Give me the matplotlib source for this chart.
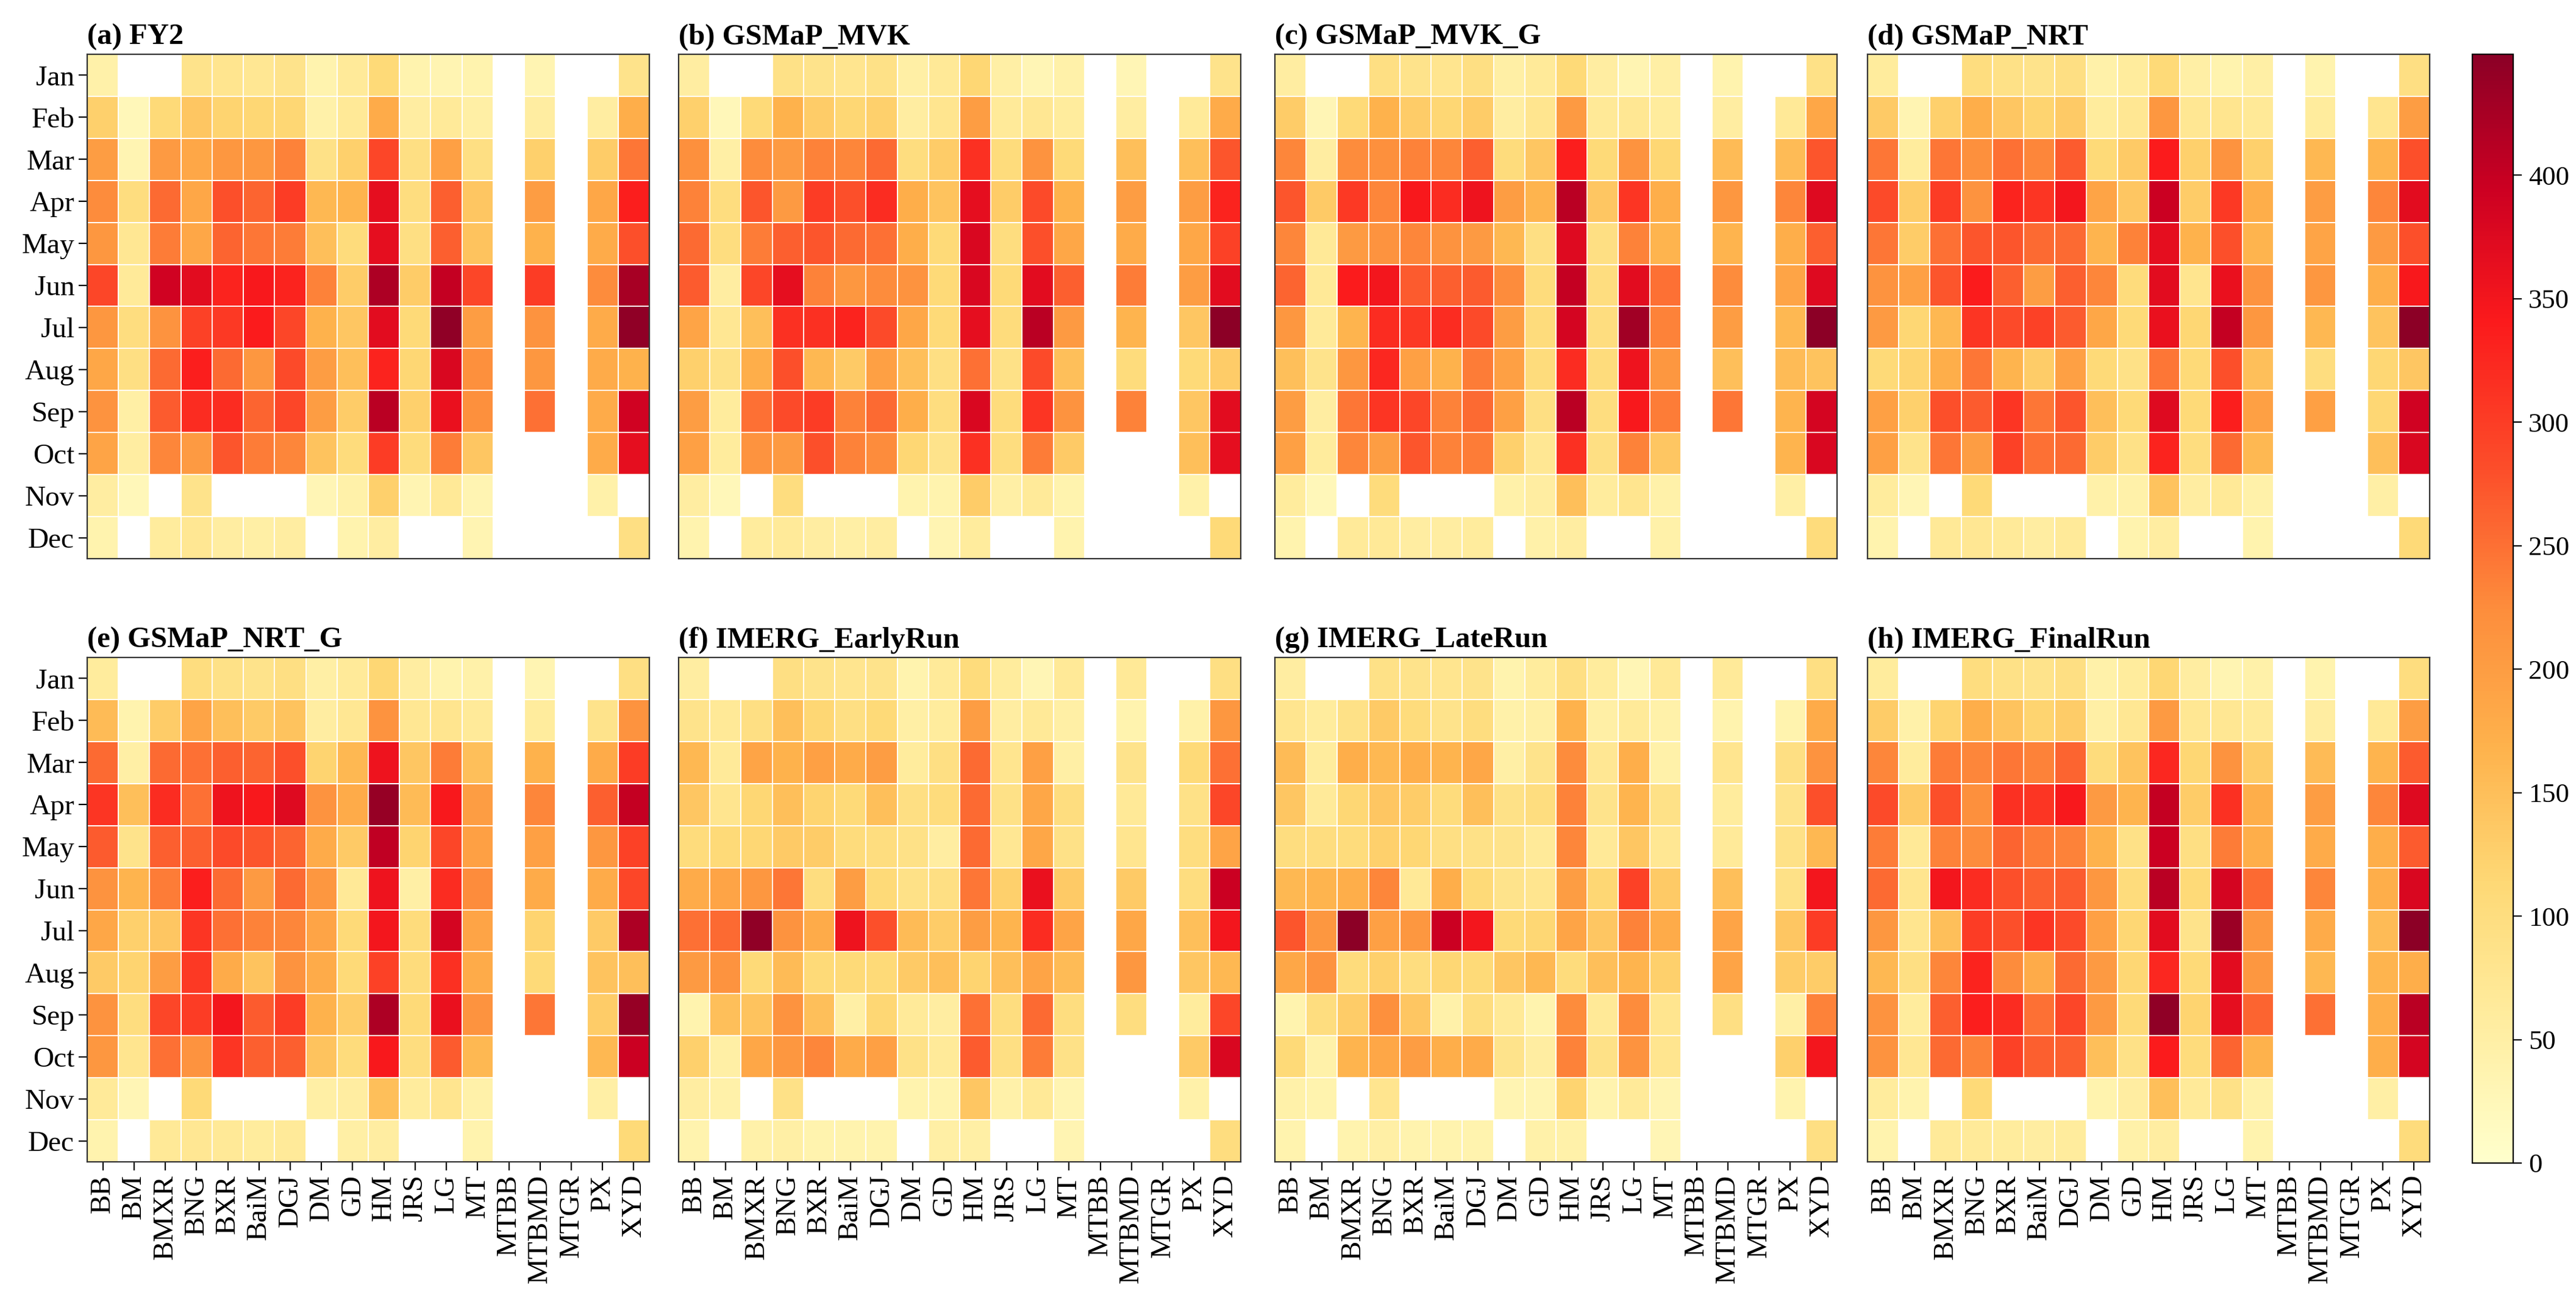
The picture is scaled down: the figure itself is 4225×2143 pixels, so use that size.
import numpy as np
import matplotlib
matplotlib.use("Agg")
import matplotlib.pyplot as plt
from matplotlib.colors import Normalize, LinearSegmentedColormap

N = np.nan
months = ['Jan', 'Feb', 'Mar', 'Apr', 'May', 'Jun', 'Jul', 'Aug', 'Sep', 'Oct', 'Nov', 'Dec']
stations = ['BB', 'BM', 'BMXR', 'BNG', 'BXR', 'BaiM', 'DGJ', 'DM', 'GD', 'HM', 'JRS', 'LG',
            'MT', 'MTBB', 'MTBMD', 'MTGR', 'PX', 'XYD']
titles = ['(a) FY2', '(b) GSMaP_MVK', '(c) GSMaP_MVK_G', '(d) GSMaP_NRT',
          '(e) GSMaP_NRT_G', '(f) IMERG_EarlyRun', '(g) IMERG_LateRun', '(h) IMERG_FinalRun']
cbar_ticks = [0, 50, 100, 150, 200, 250, 300, 350, 400]
vmax = 449

fy2 = [
    [45, N, N, 85, 80, 75, 85, 40, 65, 110, 40, 35, 40, N, 35, N, N, 85],
    [125, 25, 110, 140, 120, 115, 115, 45, 70, 180, 55, 65, 50, N, 55, N, 55, 175],
    [200, 35, 205, 185, 210, 210, 235, 90, 125, 290, 95, 195, 95, N, 125, N, 130, 245],
    [225, 100, 255, 185, 280, 260, 300, 160, 165, 365, 100, 265, 140, N, 200, N, 185, 335],
    [210, 75, 240, 185, 260, 245, 240, 150, 105, 365, 95, 265, 145, N, 170, N, 180, 280],
    [290, 65, 390, 370, 330, 345, 330, 235, 130, 420, 130, 400, 290, N, 300, N, 225, 425],
    [210, 100, 215, 295, 305, 340, 290, 170, 140, 370, 110, 445, 200, N, 215, N, 180, 445],
    [185, 95, 255, 335, 255, 210, 285, 200, 150, 330, 115, 380, 220, N, 210, N, 180, 170],
    [215, 50, 270, 320, 320, 260, 290, 200, 130, 410, 125, 360, 220, N, 250, N, 180, 390],
    [190, 55, 230, 205, 275, 240, 230, 145, 105, 300, 105, 240, 140, N, N, N, 180, 365],
    [55, 25, N, 85, N, N, N, 30, 45, 125, 35, 70, 35, N, N, N, 45, N],
    [40, N, 60, 75, 55, 50, 55, N, 40, 55, N, N, 35, N, N, N, N, 95],
]

gsmap_mvk = [
    [55, N, N, 90, 85, 80, 90, 50, 70, 115, 50, 30, 45, N, 30, N, N, 85],
    [125, 25, 110, 170, 130, 115, 125, 55, 80, 200, 65, 75, 60, N, 55, N, 65, 180],
    [220, 50, 225, 205, 235, 230, 255, 100, 130, 315, 105, 215, 110, N, 150, N, 150, 275],
    [235, 100, 275, 205, 300, 280, 320, 175, 145, 365, 130, 285, 170, N, 200, N, 200, 330],
    [255, 100, 240, 265, 275, 255, 250, 175, 110, 380, 100, 280, 185, N, 180, N, 185, 295],
    [270, 55, 290, 365, 235, 210, 225, 215, 110, 380, 110, 370, 265, N, 240, N, 200, 370],
    [190, 75, 150, 315, 315, 330, 285, 185, 110, 365, 105, 410, 205, N, 165, N, 140, 450],
    [125, 90, 175, 280, 160, 135, 195, 150, 95, 250, 90, 285, 150, N, 105, N, 110, 130],
    [200, 60, 250, 285, 300, 235, 255, 175, 100, 380, 105, 310, 215, N, 235, N, 140, 370],
    [195, 60, 215, 205, 280, 235, 225, 115, 85, 315, 100, 240, 135, N, N, N, 150, 365],
    [55, 25, N, 100, N, N, N, 40, 40, 130, 50, 65, 40, N, N, N, 45, N],
    [40, N, 60, 65, 55, 50, 55, N, 35, 60, N, N, 40, N, N, N, N, 110],
]

gsmap_mvk_g = [
    [55, N, N, 95, 85, 80, 95, 50, 65, 110, 55, 35, 50, N, 40, N, N, 90],
    [130, 30, 110, 170, 130, 115, 130, 55, 80, 205, 70, 75, 60, N, 55, N, 70, 185],
    [230, 55, 225, 220, 235, 230, 265, 105, 140, 335, 110, 215, 115, N, 155, N, 155, 275],
    [275, 135, 305, 230, 345, 320, 355, 200, 165, 410, 140, 310, 175, N, 210, N, 230, 375],
    [230, 70, 205, 215, 230, 215, 205, 160, 95, 375, 95, 235, 165, N, 165, N, 175, 265],
    [260, 70, 340, 350, 270, 265, 270, 225, 105, 400, 100, 370, 250, N, 225, N, 190, 375],
    [210, 65, 165, 320, 305, 320, 285, 200, 105, 385, 100, 430, 235, N, 200, N, 160, 450],
    [150, 85, 210, 325, 195, 170, 240, 195, 105, 320, 105, 355, 210, N, 150, N, 155, 145],
    [200, 55, 245, 310, 290, 235, 255, 195, 95, 410, 100, 345, 240, N, 245, N, 165, 385],
    [195, 60, 230, 200, 275, 235, 240, 125, 75, 315, 95, 235, 140, N, N, N, 165, 380],
    [60, 25, N, 105, N, N, N, 45, 55, 150, 60, 80, 45, N, N, N, 50, N],
    [40, N, 65, 70, 55, 55, 60, N, 45, 55, N, N, 45, N, N, N, N, 105],
]

gsmap_nrt = [
    [60, N, N, 100, 90, 85, 95, 45, 60, 110, 50, 40, 50, N, 40, N, N, 95],
    [135, 35, 125, 175, 140, 120, 135, 60, 75, 210, 75, 80, 70, N, 60, N, 80, 200],
    [245, 60, 245, 220, 250, 230, 270, 110, 135, 340, 125, 215, 125, N, 160, N, 165, 280],
    [285, 130, 300, 215, 330, 310, 350, 190, 140, 395, 130, 305, 175, N, 200, N, 230, 370],
    [245, 130, 250, 275, 275, 255, 255, 165, 235, 365, 170, 280, 165, N, 190, N, 205, 280],
    [215, 195, 275, 340, 265, 200, 265, 230, 105, 370, 80, 360, 215, N, 210, N, 175, 345],
    [205, 115, 160, 310, 285, 295, 270, 185, 110, 360, 115, 400, 210, N, 160, N, 145, 450],
    [110, 120, 175, 245, 165, 130, 195, 110, 90, 245, 110, 280, 150, N, 100, N, 115, 140],
    [195, 125, 280, 270, 310, 245, 275, 150, 110, 375, 110, 335, 195, N, 195, N, 115, 390],
    [195, 85, 245, 200, 295, 250, 255, 130, 90, 330, 100, 255, 160, N, N, N, 150, 380],
    [60, 30, N, 110, N, N, N, 45, 45, 145, 55, 70, 45, N, N, N, 50, N],
    [40, N, 70, 75, 65, 55, 65, N, 40, 55, N, N, 40, N, N, N, N, 110],
]

gsmap_nrt_g = [
    [60, N, N, 100, 90, 85, 95, 50, 65, 115, 55, 40, 45, N, 35, N, N, 95],
    [155, 40, 130, 190, 150, 135, 145, 55, 75, 215, 75, 80, 65, N, 60, N, 85, 215],
    [255, 50, 255, 250, 265, 260, 280, 120, 160, 355, 140, 240, 150, N, 170, N, 180, 300],
    [310, 150, 320, 250, 355, 345, 375, 215, 180, 440, 155, 345, 200, N, 230, N, 265, 400],
    [270, 85, 265, 265, 285, 275, 260, 180, 135, 405, 120, 290, 195, N, 195, N, 210, 295],
    [215, 165, 240, 335, 255, 205, 255, 210, 70, 355, 50, 320, 225, N, 180, N, 180, 290],
    [185, 125, 140, 310, 250, 235, 230, 190, 110, 350, 105, 385, 190, N, 120, N, 135, 420],
    [135, 120, 200, 305, 180, 145, 215, 180, 110, 295, 105, 315, 180, N, 110, N, 145, 150],
    [215, 100, 290, 300, 350, 270, 300, 170, 130, 420, 110, 360, 215, N, 245, N, 130, 440],
    [210, 80, 250, 215, 310, 265, 265, 145, 105, 345, 100, 270, 160, N, N, N, 160, 395],
    [65, 30, N, 110, N, N, N, 50, 55, 150, 60, 80, 45, N, N, N, 50, N],
    [40, N, 70, 75, 70, 60, 65, N, 50, 55, N, N, 40, N, N, N, N, 110],
]

imerg_early = [
    [55, N, N, 95, 85, 80, 85, 40, 65, 105, 60, 30, 70, N, 70, N, N, 95],
    [85, 70, 95, 150, 115, 95, 110, 50, 60, 200, 55, 70, 50, N, 40, N, 45, 210],
    [160, 65, 190, 170, 195, 180, 200, 60, 95, 255, 80, 195, 50, N, 85, N, 110, 250],
    [140, 80, 115, 150, 120, 110, 150, 95, 105, 255, 90, 185, 100, N, 70, N, 90, 290],
    [105, 110, 115, 135, 130, 105, 100, 90, 55, 255, 75, 185, 90, N, 80, N, 100, 190],
    [180, 190, 210, 245, 100, 200, 110, 90, 95, 245, 125, 360, 135, N, 135, N, 100, 395],
    [250, 255, 445, 215, 180, 355, 280, 155, 130, 200, 165, 320, 190, N, 185, N, 150, 350],
    [205, 215, 110, 155, 110, 110, 110, 135, 150, 120, 150, 190, 155, N, 210, N, 140, 160],
    [40, 150, 145, 215, 150, 50, 115, 65, 55, 250, 100, 255, 100, N, 100, N, 60, 290],
    [125, 50, 185, 210, 230, 180, 195, 90, 65, 270, 95, 240, 90, N, N, N, 135, 380],
    [55, 45, N, 90, N, N, N, 40, 40, 140, 45, 70, 35, N, N, N, 45, N],
    [40, N, 45, 50, 40, 40, 40, N, 50, 50, N, N, 35, N, N, N, N, 100],
]

imerg_late = [
    [55, N, N, 90, 85, 80, 85, 40, 60, 95, 60, 30, 70, N, 65, N, N, 95],
    [80, 60, 90, 135, 105, 85, 100, 45, 50, 170, 50, 65, 45, N, 40, N, 40, 180],
    [155, 60, 175, 160, 175, 165, 185, 50, 85, 225, 75, 175, 45, N, 80, N, 95, 215],
    [140, 65, 115, 140, 130, 105, 150, 90, 100, 235, 85, 165, 90, N, 60, N, 85, 280],
    [100, 100, 105, 125, 115, 95, 90, 85, 65, 230, 70, 140, 75, N, 65, N, 90, 160],
    [160, 165, 175, 230, 70, 175, 110, 85, 80, 200, 115, 295, 135, N, 150, N, 90, 350],
    [275, 210, 450, 195, 210, 395, 350, 110, 115, 190, 140, 235, 180, N, 190, N, 140, 300],
    [185, 215, 105, 125, 100, 115, 110, 140, 160, 105, 150, 165, 125, N, 190, N, 130, 130],
    [40, 100, 130, 220, 140, 45, 100, 70, 40, 225, 70, 225, 80, N, 95, N, 50, 235],
    [110, 45, 165, 185, 200, 175, 180, 85, 55, 235, 90, 215, 80, N, N, N, 125, 350],
    [45, 40, N, 80, N, N, N, 35, 35, 120, 40, 65, 35, N, N, N, 40, N],
    [40, N, 40, 50, 40, 40, 40, N, 45, 45, N, N, 30, N, N, N, N, 95],
]

imerg_final = [
    [60, N, N, 100, 90, 85, 95, 45, 60, 115, 55, 35, 45, N, 40, N, N, 100],
    [130, 45, 120, 175, 145, 120, 130, 50, 75, 205, 75, 75, 65, N, 55, N, 70, 200],
    [230, 60, 240, 230, 245, 235, 260, 105, 145, 325, 115, 215, 130, N, 155, N, 165, 270],
    [285, 135, 280, 220, 315, 310, 345, 205, 165, 400, 130, 315, 175, N, 200, N, 230, 375],
    [240, 70, 235, 225, 260, 240, 235, 170, 90, 395, 95, 240, 175, N, 180, N, 175, 270],
    [255, 80, 350, 320, 280, 265, 270, 210, 105, 410, 110, 385, 255, N, 230, N, 175, 380],
    [210, 80, 150, 300, 280, 310, 285, 195, 115, 370, 85, 435, 210, N, 180, N, 155, 450],
    [160, 95, 230, 330, 225, 180, 255, 205, 115, 325, 110, 370, 210, N, 160, N, 165, 175],
    [215, 60, 265, 335, 320, 250, 290, 205, 110, 445, 120, 365, 260, N, 250, N, 175, 410],
    [215, 75, 255, 235, 295, 265, 265, 150, 90, 340, 105, 260, 170, N, N, N, 175, 385],
    [60, 40, N, 110, N, N, N, 40, 55, 150, 65, 90, 45, N, N, N, 50, N],
    [40, N, 65, 65, 60, 55, 60, N, 45, 55, N, N, 40, N, N, N, N, 105],
]

products = [fy2, gsmap_mvk, gsmap_mvk_g, gsmap_nrt, gsmap_nrt_g, imerg_early, imerg_late, imerg_final]

plt.rcParams['font.family'] = ['Liberation Serif', 'DejaVu Serif']

W, H = 4225, 2143
fig = plt.figure(figsize=(W / 100, H / 100), dpi=100)

lefts = [143, 1113, 2091, 3063]
pw = 922
tops = [89, 1078]
ph = 827

# YlOrRd-like ramp, with the brighter reds seen in the reference colour bar
cmap = LinearSegmentedColormap.from_list('ylorrd_bright', [
    (0.0, '#ffffcc'), (0.125, '#ffeda0'), (0.25, '#fed976'), (0.375, '#feb24c'),
    (0.5, '#fd8d3c'), (0.625, '#fc4e2a'), (0.76, '#fb1a1c'), (0.88, '#cc0022'),
    (1.0, '#8c0026')])
norm = Normalize(vmin=0, vmax=vmax)

mesh = None
for i, (data, title) in enumerate(zip(products, titles)):
    r, c = divmod(i, 4)
    ax = fig.add_axes([lefts[c] / W, 1 - (tops[r] + ph) / H, pw / W, ph / H])
    arr = np.ma.masked_invalid(np.array(data, dtype=float))
    mesh = ax.pcolormesh(np.arange(len(stations) + 1), np.arange(len(months) + 1), arr,
                         cmap=cmap, norm=norm, edgecolors='white', linewidth=1.2)
    ax.set_xlim(0, len(stations))
    ax.set_ylim(len(months), 0)
    for s in ax.spines.values():
        s.set_linewidth(1.6)
        s.set_color('#333333')
    ax.set_title(title, loc='left', fontweight='bold', fontsize=35, pad=12)
    if c == 0:
        ax.set_yticks(np.arange(len(months)) + 0.5)
        ax.set_yticklabels(months, fontsize=34)
        ax.tick_params(axis='y', length=10, width=1.6, pad=5)
    else:
        ax.set_yticks([])
    if r == 1:
        ax.set_xticks(np.arange(len(stations)) + 0.5)
        ax.set_xticklabels(stations, rotation=90, fontsize=34)
        ax.tick_params(axis='x', length=10, width=1.6, pad=5)
    else:
        ax.set_xticks([])

cax = fig.add_axes([4055 / W, 1 - 1907 / H, 67 / W, (1907 - 89) / H])
cb = fig.colorbar(mesh, cax=cax, ticks=cbar_ticks)
cb.ax.tick_params(labelsize=32, length=10, width=1.6, pad=8)
cb.outline.set_linewidth(1.6)

fig.savefig('out.png', dpi=100)
